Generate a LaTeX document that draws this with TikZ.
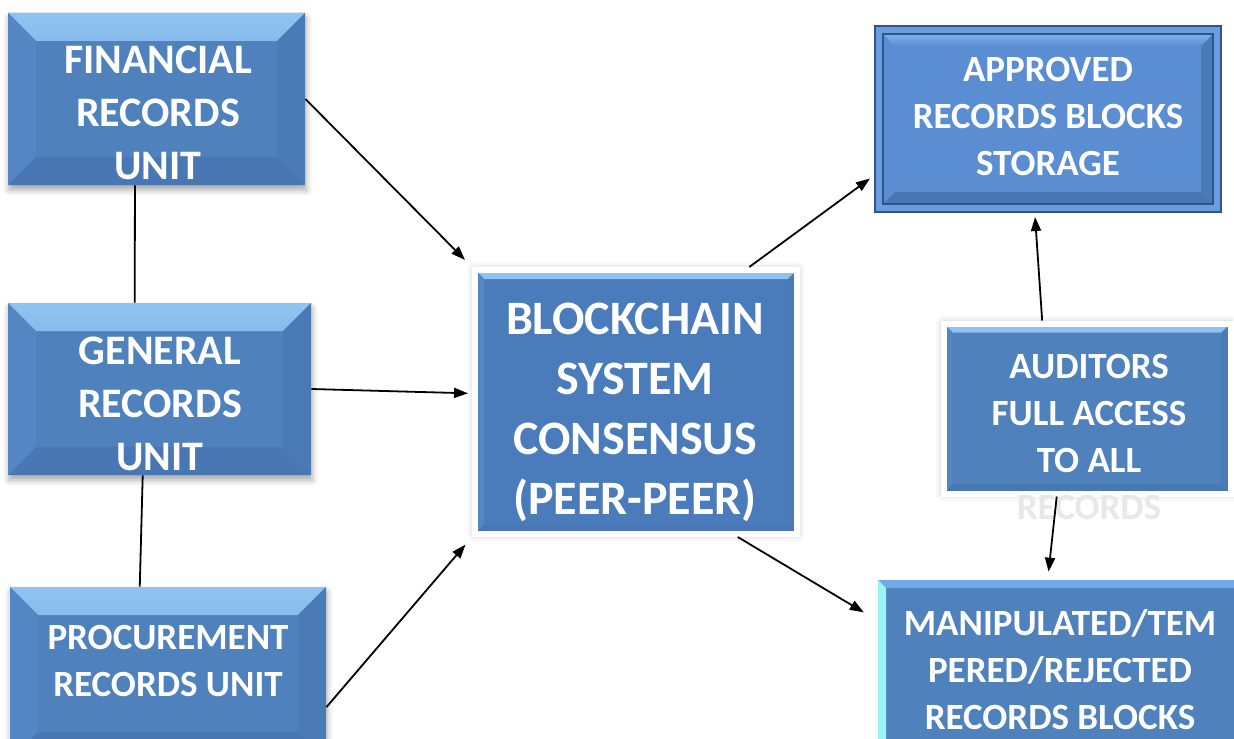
\documentclass[tikz,border=0pt]{standalone}
\usepackage{fontspec}
\setmainfont{Carlito}
\usetikzlibrary{arrows.meta,shadows.blur}

\definecolor{unitblue}{HTML}{4F81BD}
\definecolor{bevtop}{HTML}{8FC4F2}
\definecolor{bevmid}{HTML}{5A8ECF}
\definecolor{bevleft}{HTML}{5486C3}
\definecolor{bevright}{HTML}{4A7BB7}
\definecolor{bevbot}{HTML}{4877B3}
\definecolor{chainblue}{HTML}{4A7BBA}
\definecolor{storeblue}{HTML}{5A8DD2}
\definecolor{storeband}{HTML}{6A9DDE}
\definecolor{storeedge}{HTML}{2E5589}
\definecolor{rejcyan}{HTML}{9AF3F7}
\definecolor{rejtop}{HTML}{72AAE8}

\tikzset{
  bevel/.style={path picture={
    \fill[top color=bevtop, bottom color=bevmid]
      (path picture bounding box.north west) -- (path picture bounding box.north east)
      -- ([xshift=-#1,yshift=-#1]path picture bounding box.north east)
      -- ([xshift=#1,yshift=-#1]path picture bounding box.north west) -- cycle;
    \fill[bevleft]
      (path picture bounding box.north west) -- ([xshift=#1,yshift=-#1]path picture bounding box.north west)
      -- ([xshift=#1,yshift=#1]path picture bounding box.south west) -- (path picture bounding box.south west) -- cycle;
    \fill[bevright]
      (path picture bounding box.north east) -- ([xshift=-#1,yshift=-#1]path picture bounding box.north east)
      -- ([xshift=-#1,yshift=#1]path picture bounding box.south east) -- (path picture bounding box.south east) -- cycle;
    \fill[bevbot]
      (path picture bounding box.south west) -- ([xshift=#1,yshift=#1]path picture bounding box.south west)
      -- ([xshift=-#1,yshift=#1]path picture bounding box.south east) -- (path picture bounding box.south east) -- cycle;
  }},
  unit/.style={fill=unitblue, inner sep=0, bevel=14pt,
    blur shadow={shadow xshift=0.5pt, shadow yshift=-2.5pt, shadow blur radius=3pt, shadow opacity=35}},
  glowbox/.style={fill=chainblue, draw=white, line width=3pt, inner sep=0, bevel=4.5pt,
    blur shadow={shadow xshift=0pt, shadow yshift=0pt, shadow blur radius=4pt, shadow opacity=30}},
  storebox/.style={fill=storeband, draw=storeedge, line width=1pt, inner sep=0, path picture={
    \fill[storeblue] ([xshift=4pt,yshift=-4pt]path picture bounding box.north west)
      rectangle ([xshift=-4pt,yshift=4pt]path picture bounding box.south east);
    \fill[top color=bevtop!70!storeblue, bottom color=storeblue]
      ([xshift=4pt,yshift=-4pt]path picture bounding box.north west)
      -- ([xshift=-4pt,yshift=-4pt]path picture bounding box.north east)
      -- ([xshift=-10pt,yshift=-10pt]path picture bounding box.north east)
      -- ([xshift=10pt,yshift=-10pt]path picture bounding box.north west) -- cycle;
    \fill[bevright]
      ([xshift=-4pt,yshift=-4pt]path picture bounding box.north east)
      -- ([xshift=-10pt,yshift=-10pt]path picture bounding box.north east)
      -- ([xshift=-10pt,yshift=10pt]path picture bounding box.south east)
      -- ([xshift=-4pt,yshift=4pt]path picture bounding box.south east) -- cycle;
    \fill[bevbot]
      ([xshift=4pt,yshift=4pt]path picture bounding box.south west)
      -- ([xshift=10pt,yshift=10pt]path picture bounding box.south west)
      -- ([xshift=-10pt,yshift=10pt]path picture bounding box.south east)
      -- ([xshift=-4pt,yshift=4pt]path picture bounding box.south east) -- cycle;
    \draw[storeedge, line width=0.7pt] ([xshift=4pt,yshift=-4pt]path picture bounding box.north west)
      rectangle ([xshift=-4pt,yshift=4pt]path picture bounding box.south east);
  }},
  rejbox/.style={fill=unitblue, inner sep=0, path picture={
    \fill[rejtop] (path picture bounding box.north west) -- (path picture bounding box.north east)
      -- ([yshift=-4pt]path picture bounding box.north east)
      -- ([xshift=4pt,yshift=-4pt]path picture bounding box.north west) -- cycle;
    \fill[rejcyan] (path picture bounding box.north west)
      -- ([xshift=4pt,yshift=-4pt]path picture bounding box.north west)
      -- ([xshift=4pt]path picture bounding box.south west) -- (path picture bounding box.south west) -- cycle;
  }},
  label21/.style={text=white, align=center, inner sep=0, font=\bfseries\fontsize{21}{26.5}\selectfont},
  label18/.style={text=white, align=center, inner sep=0, font=\bfseries\fontsize{18.5}{23.5}\selectfont},
  label24/.style={text=white, align=center, inner sep=0, font=\bfseries\fontsize{24}{30}\selectfont},
  flow/.style={draw=black, line width=0.9pt, -{Triangle[length=7pt,width=5pt]}},
  link/.style={draw=black, line width=0.9pt},
}

\begin{document}
\begin{tikzpicture}[x=0.5pt,y=-0.5pt]
\useasboundingbox (0,0) rectangle (1234,738);

\node[unit, minimum width=148.5pt, minimum height=86pt] (fin) at (156.5,99) {};
\node[unit, minimum width=151.5pt, minimum height=86pt] (gen) at (159.5,389) {};
\node[unit, minimum width=158pt, minimum height=86.5pt] (proc) at (168,673.5) {};
\node[glowbox, minimum width=161pt, minimum height=132pt] (bc) at (636,402) {};
\node[storebox, minimum width=173pt, minimum height=93pt] (appr) at (1048,119) {};
\node[glowbox, fill=unitblue, minimum width=143.5pt, minimum height=85pt] (aud) at (1087,408.5) {};
\node[rejbox, minimum width=184pt, minimum height=90pt] (manip) at (1062,670) {};

\node[label21] (fintext) at (158,113) {FINANCIAL\\RECORDS\\UNIT};
\node[label21] (gentext) at (160,404) {GENERAL\\RECORDS\\UNIT};
\node[label18] (proctext) at (168,660.5) {PROCUREMENT\\RECORDS UNIT};
\node[label24] (bctext) at (635,412) {BLOCKCHAIN\\SYSTEM\\CONSENSUS\\(PEER-PEER)};
\node[label18] (apprtext) at (1048,116.5) {APPROVED\\RECORDS BLOCKS\\STORAGE};
\node[label18] (audtext) at (1089,436.5) {AUDITORS\\FULL ACCESS\\TO ALL\\{\color{black!9}RECORDS}};
\node[label18] (maniptext) at (1060,670) {MANIPULATED/TEM\\PERED/REJECTED\\RECORDS BLOCKS};

\draw[link] (fin.-104) -- (gen.106);
\draw[link] (gen.-101.5) -- (proc.108);

\draw[flow, shorten >=5pt] (fin.east) -- (bc.north west);
\draw[flow, shorten >=2pt] (gen.east) -- (bc.177);
\draw[flow, shorten >=5pt] (proc.-12) -- (bc.south west);
\draw[flow, shorten >=2.5pt] (bc.50) -- (appr.198);
\draw[flow, shorten >=8pt] (bc.-53) -- (manip.165);
\draw[flow, shorten >=2pt] (aud.117) -- (appr.-98);
\draw[flow, shorten >=4pt] (aud.-109) -- (manip.99);
\end{tikzpicture}
\end{document}
